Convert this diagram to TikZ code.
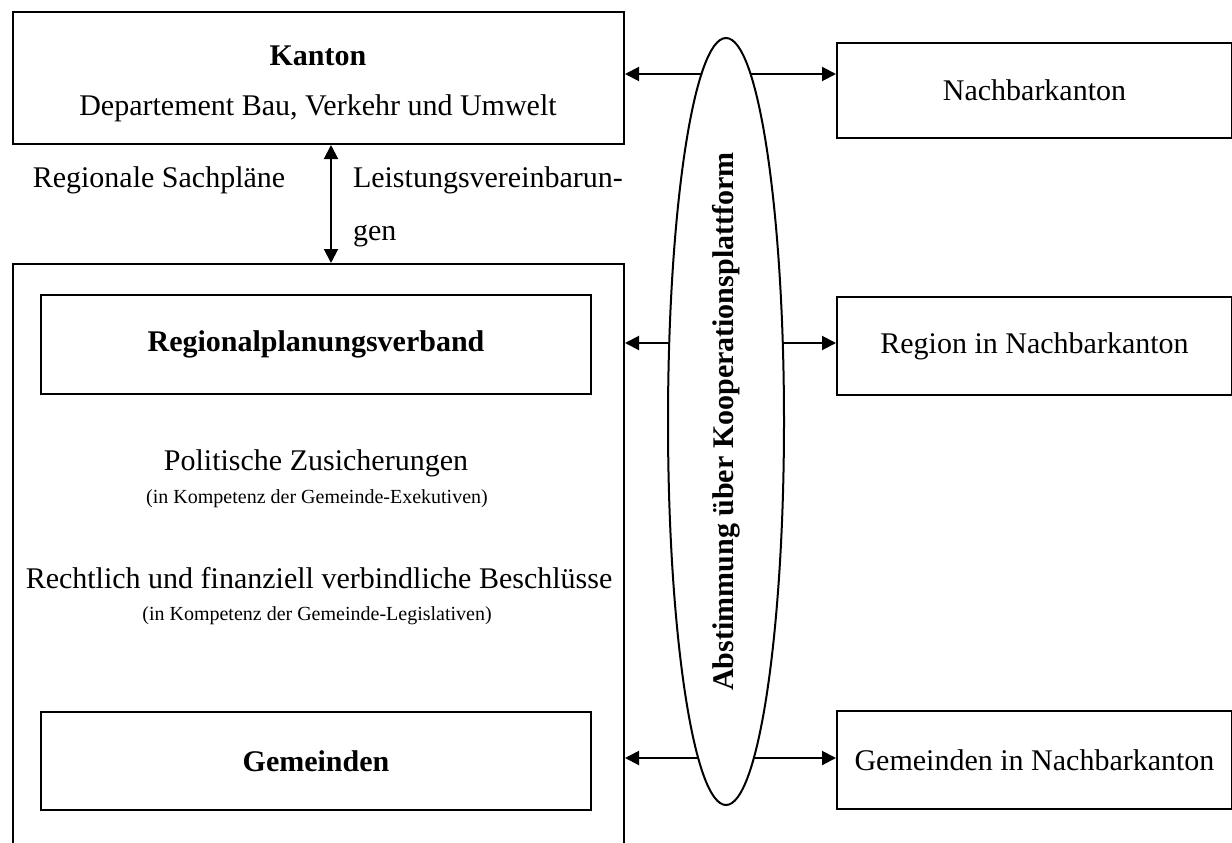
\documentclass[tikz,border=0pt]{standalone}
\usepackage{fontspec}
\setmainfont{Liberation Serif}
\usetikzlibrary{arrows.meta,shapes.geometric}
\begin{document}
\begin{tikzpicture}[x=1pt,y=-1pt,line width=2pt,
  box/.style={draw,line width=2pt,inner sep=0pt,align=center,
    font=\fontsize{30}{36}\selectfont},
  txt/.style={inner sep=0pt,font=\fontsize{30}{36}\selectfont},
  smalltxt/.style={inner sep=0pt,font=\fontsize{20}{24}\selectfont},
  biarrow/.style={line width=2pt,
    {Triangle[length=14pt,width=14pt]}-{Triangle[length=14pt,width=14pt]}}]
\useasboundingbox (0,0) rectangle (1232,843);
\clip (0,0) rectangle (1232,843);
% left column
\node[box,anchor=north west,minimum width=611pt,minimum height=132pt] (kanton) at (12,11) {};
\node[txt,anchor=base,font=\fontsize{30}{36}\selectfont\bfseries] (kantonT) at (318,66) {Kanton};
\node[txt,anchor=base] (depT) at (318,115) {Departement Bau, Verkehr und Umwelt};
\node[box,anchor=north west,minimum width=611pt,minimum height=700pt] (gross) at (12,263) {};
\node[txt,anchor=base] (sachT) at (159,187) {Regionale Sachpl\"ane};
\node[txt,anchor=base west] (leistT) at (352,187) {Leistungsvereinbarun-};
\node[txt,anchor=base west] (genT) at (352,240) {gen};
\node[box,anchor=north west,minimum width=550pt,minimum height=99pt,
  font=\fontsize{30}{36}\selectfont\bfseries] (rpv) at (40,294) {Regionalplanungsverband};
\node[txt,anchor=base] (polT) at (316,470) {Politische Zusicherungen};
\node[smalltxt,anchor=base] (exT) at (317,503) {(in Kompetenz der Gemeinde-Exekutiven)};
\node[txt,anchor=base] (rechtT) at (319,588) {Rechtlich und finanziell verbindliche Beschl\"usse};
\node[smalltxt,anchor=base] (legT) at (317,620) {(in Kompetenz der Gemeinde-Legislativen)};
\node[box,anchor=north west,minimum width=550pt,minimum height=98pt,
  font=\fontsize{30}{36}\selectfont\bfseries] (gem) at (40,711) {Gemeinden};
% right column
\node[box,anchor=north west,minimum width=395pt,minimum height=95pt] (nk) at (836,42) {Nachbarkanton};
\node[box,anchor=north west,minimum width=395pt,minimum height=98pt] (rnk) at (836,296) {Region in Nachbarkanton};
\node[box,anchor=north west,minimum width=395pt,minimum height=98pt] (gnk) at (836,710) {Gemeinden in Nachbarkanton};
% arrows
\draw[biarrow] (kanton.south -| 331,0) -- (gross.north -| 331,0);
\draw[biarrow] (kanton.east |- 0,74) -- (nk.west |- 0,74);
\draw[biarrow] (gross.east |- 0,343) -- (rnk.west |- 0,343);
\draw[biarrow] (gross.east |- 0,758) -- (gnk.west |- 0,758);
% ellipse
\node[ellipse,draw,fill=white,line width=2pt,inner sep=0pt,minimum width=116pt,minimum height=767pt] (ell) at (726,421.5) {};
\node[txt,rotate=90,font=\fontsize{30}{36}\selectfont\bfseries] (ellT) at (ell.center) {Abstimmung \"uber Kooperationsplattform};
\end{tikzpicture}
\end{document}
